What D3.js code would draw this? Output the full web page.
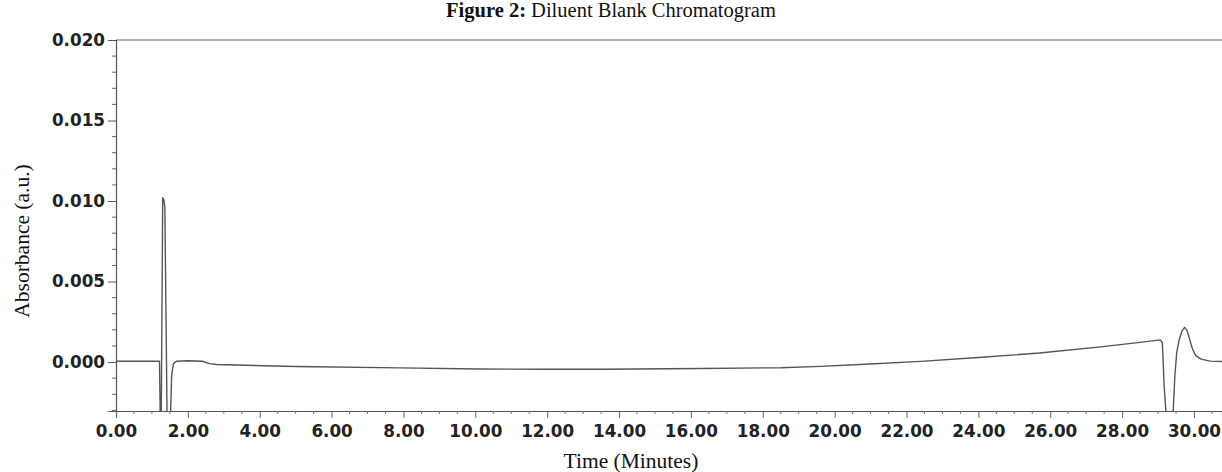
<!DOCTYPE html>
<html lang="en">
<head>
<meta charset="UTF-8">
<title>Diluent Blank Chromatogram</title>
<style>
    body { margin: 0; background: #fff; }
    svg { display: block; }
    .tick-label { font-family: "DejaVu Sans", sans-serif; font-weight: bold; font-size: 16.8px; fill: #222; }
    .serif { font-family: "Liberation Serif", "Times New Roman", serif; fill: #111; }
    .trace { fill: none; stroke: #555; stroke-width: 1.4px; stroke-linejoin: round; }
    .frame { stroke: #666; stroke-width: 1.2px; }
</style>
</head>
<body>
<div id="chart"></div>
<script src="https://d3js.org/d3.v7.min.js"></script>
<script>
// retention time (minutes)
const times = [0, 1.21, 1.23, 1.26, 1.30, 1.33, 1.36, 1.42, 1.52, 1.55, 1.60, 1.68,
    2.0, 2.4, 2.6, 2.8, 3.6, 5.0, 7.9, 10.1, 12.0, 13.5, 16.3, 18.5, 19.6, 20.7,
    22.4, 24.0, 25.7, 27.4, 28.5, 29.06, 29.12, 29.17, 29.22, 29.42, 29.47, 29.52,
    29.58, 29.66, 29.74, 29.80, 29.88, 29.96, 30.05, 30.2, 30.45, 30.78];
// absorbance (a.u.)
const absorbance = [0.00005, 0.00005, -0.0031, -0.0031, 0.0102, 0.0101, 0.0096, -0.0031, -0.0031, -0.0008, -0.0001, 0.00005,
    0.00008, 0.00005, -0.0001, -0.00015, -0.0002, -0.00028, -0.00036, -0.00043, -0.00045, -0.00045, -0.0004, -0.00035, -0.00027, -0.00015,
    0.00004, 0.00028, 0.00056, 0.00094, 0.00122, 0.00138, 0.0012, -0.0015, -0.0031, -0.0031, -0.0008, 0.0006,
    0.0013, 0.0019, 0.00215, 0.0020, 0.0014, 0.0008, 0.0004, 0.00018, 0.00006, 0.00003];

const yTicks = [0.000, 0.005, 0.010, 0.015, 0.020];
const xTicks = [0, 2, 4, 6, 8, 10, 12, 14, 16, 18, 20, 22, 24, 26, 28, 30];

const W = 1222, H = 472;
const plotLeft = 116, plotRight = 1222, plotTop = 40, plotBottom = 411;

const svg = d3.select("#chart").append("svg")
    .attr("width", W)
    .attr("height", H);

const x = d3.scaleLinear().domain([0, 30.78]).range([plotLeft, plotRight]);
const y = d3.scaleLinear().domain([-0.00304, 0.020]).range([plotBottom, plotTop]);

// clip so the off-scale dips stop at the axis
svg.append("clipPath").attr("id", "plot")
    .append("rect")
    .attr("x", plotLeft).attr("y", plotTop)
    .attr("width", plotRight - plotLeft).attr("height", plotBottom - plotTop);

// top frame line
svg.append("line").attr("class", "frame")
    .attr("x1", plotLeft).attr("x2", plotRight).attr("y1", plotTop).attr("y2", plotTop);

// y axis
const yAxis = d3.axisLeft(y).tickValues(yTicks).tickFormat(d3.format(".3f"))
    .tickSize(8).tickPadding(3);
const gy = svg.append("g").attr("transform", `translate(${plotLeft},0)`).call(yAxis);
gy.select(".domain").attr("stroke", "#555").attr("stroke-width", 1.2);
gy.selectAll(".tick line").attr("stroke", "#555");
gy.selectAll(".tick text").attr("class", "tick-label");

const yMinor = d3.range(-0.003, 0.0201, 0.001).filter(v => Math.abs(v * 200 - Math.round(v * 200)) > 1e-6);
svg.append("g").selectAll("line").data(yMinor).join("line")
    .attr("x1", plotLeft - 4).attr("x2", plotLeft)
    .attr("y1", d => y(d)).attr("y2", d => y(d))
    .attr("stroke", "#666");

// x axis
const xAxis = d3.axisBottom(x).tickValues(xTicks).tickFormat(d3.format(".2f"))
    .tickSize(7).tickPadding(7);
const gx = svg.append("g").attr("transform", `translate(0,${plotBottom})`).call(xAxis);
gx.select(".domain").attr("stroke", "#555").attr("stroke-width", 1.2);
gx.selectAll(".tick line").attr("stroke", "#666");
gx.selectAll(".tick text").attr("class", "tick-label");

const xMinor = d3.range(0.5, 30.7, 0.5).filter(v => v % 2 !== 0);
svg.append("g").selectAll("line").data(xMinor).join("line")
    .attr("x1", d => x(d)).attr("x2", d => x(d))
    .attr("y1", plotBottom).attr("y2", plotBottom + 3)
    .attr("stroke", "#777");

// trace
const pts = times.map((t, i) => [t, absorbance[i]]);
svg.append("path")
    .datum(pts)
    .attr("class", "trace")
    .attr("clip-path", "url(#plot)")
    .attr("d", d3.line().x(d => x(d[0])).y(d => y(d[1])));

// title and axis titles
const title = svg.append("text").attr("class", "serif")
    .attr("x", 611).attr("y", 17)
    .attr("text-anchor", "middle")
    .style("font-size", "20.5px");
title.append("tspan").attr("font-weight", "bold").text("Figure 2:");
title.append("tspan").text(" Diluent Blank Chromatogram");

svg.append("text").attr("class", "serif")
    .attr("x", 631).attr("y", 468)
    .attr("text-anchor", "middle")
    .style("font-size", "21.5px")
    .text("Time (Minutes)");

svg.append("text").attr("class", "serif")
    .attr("transform", "translate(29,241) rotate(-90)")
    .attr("text-anchor", "middle")
    .style("font-size", "21.5px")
    .text("Absorbance (a.u.)");
</script>
</body>
</html>
